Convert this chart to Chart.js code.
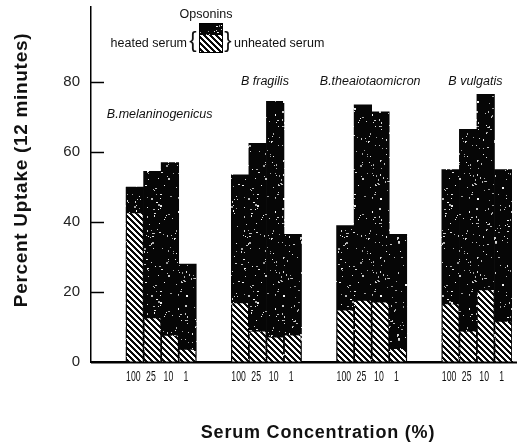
<!DOCTYPE html>
<html><head><meta charset="utf-8">
<script src="https://cdn.jsdelivr.net/npm/chart.js@4"></script>
<style>html,body{margin:0;padding:0;background:#fff}#wrap{width:523px;height:442px}</style>
</head><body><div id="wrap"><canvas id="c" width="523" height="442"></canvas></div>
<script>
// ---- data ----
const groups = ['B.melaninogenicus', 'B fragilis', 'B.theaiotaomicron', 'B vulgatis'];
const concentrations = ['100', '25', '10', '1'];
// total uptake with unheated serum (dark bar height)
const unheatedSerum = [50, 54.5, 57, 28,  53.5, 62.5, 74.5, 36.5,  39, 73.5, 71.5, 36.5,  55, 66.5, 76.5, 55];
// uptake with heated serum (hatched part)
const heatedSerum = [42.5, 12.5, 7.5, 3.5,  16.8, 8.7, 7, 7.6,  14.7, 17.5, 17, 3.7,  16.5, 8.7, 20.5, 11.5];
const yTicks = [0, 20, 40, 60, 80];

// ---- build category slots (two empty slots before each group) ----
const labels = [], dHeated = [], dUnheated = [], groupSlots = [];
groups.forEach((g, gi) => {
  labels.push('', '');
  dHeated.push(null, null);
  dUnheated.push(null, null);
  const slots = [];
  concentrations.forEach((c, ci) => {
    slots.push(labels.length);
    labels.push(c);
    dHeated.push(heatedSerum[gi * 4 + ci]);
    dUnheated.push(unheatedSerum[gi * 4 + ci]);
  });
  groupSlots.push(slots);
});

// ---- patterns ----
function hatchPattern() {
  const s = 6, cv = document.createElement('canvas');
  cv.width = s; cv.height = s;
  const c = cv.getContext('2d'), img = c.createImageData(s, s);
  for (let yy = 0; yy < s; yy++) for (let xx = 0; xx < s; xx++) {
    const k = ((xx - yy) % s + s) % s;
    const v = k < 3 ? 10 : 255;
    const i = (yy * s + xx) * 4;
    img.data[i] = img.data[i + 1] = img.data[i + 2] = v; img.data[i + 3] = 255;
  }
  c.putImageData(img, 0, 0);
  return c.createPattern(cv, 'repeat');
}
function speckPattern() {
  const s = 97, cv = document.createElement('canvas');
  cv.width = s; cv.height = s;
  const c = cv.getContext('2d');
  c.fillStyle = '#060606'; c.fillRect(0, 0, s, s);
  let seed = 987654;
  const rnd = () => { seed = (seed * 1103515245 + 12345) & 0x7fffffff; return seed / 0x7fffffff; };
  for (let i = 0; i < 230; i++) {
    const px = Math.floor(rnd() * s), py = Math.floor(rnd() * s);
    const w = rnd() < 0.25 ? 2 : 1, h = rnd() < 0.25 ? 2 : 1;
    const g = 150 + Math.floor(rnd() * 105);
    c.fillStyle = 'rgb(' + g + ',' + g + ',' + g + ')';
    c.fillRect(px, py, w, h);
  }
  return c.createPattern(cv, 'repeat');
}

const overlay = {
  id: 'overlay',
  afterDraw(chart) {
    const ctx = chart.ctx, xs = chart.scales.x, ys = chart.scales.y, a = chart.chartArea;
    ctx.save();
    // inward tick marks on the y axis
    ctx.strokeStyle = '#000'; ctx.lineWidth = 1.5;
    yTicks.forEach(v => {
      if (v === 0) return;
      const py = Math.round(ys.getPixelForValue(v)) + 0.5;
      ctx.beginPath(); ctx.moveTo(a.left, py); ctx.lineTo(a.left + 13, py); ctx.stroke();
    });
    // extend x axis line slightly to the right
    ctx.lineWidth = 2;
    ctx.beginPath(); ctx.moveTo(a.left, a.bottom + 0.5); ctx.lineTo(a.right + 5, a.bottom + 0.5); ctx.stroke();
    // condensed category labels under the bars
    ctx.fillStyle = '#111';
    ctx.textAlign = 'center'; ctx.textBaseline = 'middle';
    ctx.font = '14px "Liberation Sans", Arial, sans-serif';
    labels.forEach((lab, i) => {
      if (!lab) return;
      ctx.save();
      ctx.translate(xs.getPixelForValue(i) - 1.5, a.bottom + 15);
      ctx.scale(0.62, 1);
      ctx.fillText(lab, 0, 0);
      ctx.restore();
    });
    // group labels
    const levels = [70.5, 80, 80, 80];
    ctx.font = 'italic 12.5px "Liberation Sans", Arial, sans-serif';
    groups.forEach((g, gi) => {
      const sl = groupSlots[gi];
      const cx = (xs.getPixelForValue(sl[1]) + xs.getPixelForValue(sl[2])) / 2 - 1.5;
      ctx.fillText(g, cx, ys.getPixelForValue(levels[gi]) - 0.5);
    });
    // axis titles
    ctx.font = 'bold 19px "Liberation Sans", Arial, sans-serif';
    try { ctx.letterSpacing = '0.7px'; } catch (e) {}
    ctx.save();
    ctx.translate(22, 170);
    ctx.rotate(-Math.PI / 2);
    ctx.fillText('Percent Uptake (12 minutes)', 0, 0);
    ctx.restore();
    ctx.font = 'bold 18px "Liberation Sans", Arial, sans-serif';
    try { ctx.letterSpacing = '0.8px'; } catch (e) {}
    ctx.fillText('Serum Concentration (%)', 318, 433);
    try { ctx.letterSpacing = '0px'; } catch (e) {}
    // legend (Opsonins)
    ctx.font = '12.5px "Liberation Sans", Arial, sans-serif';
    ctx.fillText('Opsonins', 206, 15);
    const bx = 199, bw = 24;
    ctx.fillStyle = speck; ctx.fillRect(bx, 23, bw, 12);
    ctx.fillStyle = hatch; ctx.fillRect(bx, 35, bw, 18);
    ctx.strokeStyle = '#000'; ctx.lineWidth = 1;
    ctx.strokeRect(bx + 0.5, 23.5, bw - 1, 29);
    ctx.fillStyle = '#111';
    ctx.textAlign = 'right';
    ctx.fillText('heated serum', 187, 43.5);
    ctx.textAlign = 'left';
    ctx.fillText('unheated serum', 234, 43.5);
    ctx.font = '22px "Liberation Sans", Arial, sans-serif';
    ctx.textAlign = 'center';
    ctx.fillText('{', 193, 41);
    ctx.fillText('}', 228, 41);
    ctx.restore();
  }
};

const hatch = hatchPattern();
const speck = speckPattern();

new Chart(document.getElementById('c'), {
  type: 'bar',
  data: {
    labels: labels,
    datasets: [
      { label: 'heated serum', data: dHeated, backgroundColor: hatch, borderWidth: 0,
        barPercentage: 0.9, categoryPercentage: 1 },
      { label: 'unheated serum', data: dUnheated, backgroundColor: speck, borderWidth: 0,
        barPercentage: 1, categoryPercentage: 1 }
    ]
  },
  options: {
    responsive: false,
    animation: false,
    devicePixelRatio: 1,
    layout: { padding: { top: 7, right: 11, left: 0, bottom: 0 } },
    plugins: { legend: { display: false }, tooltip: { enabled: false } },
    scales: {
      x: {
        stacked: true,
        grid: { display: false, drawTicks: false },
        border: { display: true, color: '#000', width: 2 },
        ticks: { display: false },
        afterFit: s => { s.height = 80; s.paddingLeft = 0; s.paddingRight = 0; }
      },
      y: {
        stacked: false,
        min: 0, max: 101.5,
        grid: { display: false, drawTicks: false },
        border: { display: true, color: '#000', width: 1.5 },
        afterBuildTicks: s => { s.ticks = yTicks.map(v => ({ value: v })); },
        ticks: { padding: 11, color: '#222',
          font: { family: '"Liberation Sans", Arial', size: 15 } },
        afterFit: s => { s.width = 91; s.paddingTop = 0; s.paddingBottom = 0; }
      }
    }
  },
  plugins: [overlay]
});
</script>
</body></html>
